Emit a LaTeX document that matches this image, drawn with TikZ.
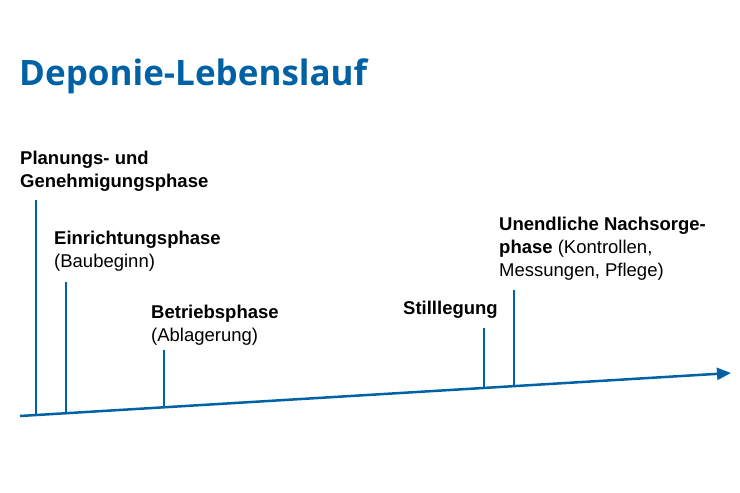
\documentclass[tikz,border=0pt]{standalone}
\usepackage{fontspec}
\setmainfont{Liberation Sans}
\newfontfamily\titlefont{Open Sans}
\usetikzlibrary{arrows.meta}
\definecolor{dblue}{RGB}{0,98,164}
\begin{document}
\begin{tikzpicture}[x=1pt,y=-1pt,
  lbl/.style={anchor=base west,inner sep=0pt,font=\fontsize{18.5}{23}\selectfont},
  tick/.style={draw=dblue,line width=1.2pt},
  axis/.style={draw=dblue,line width=2.5pt,-{Stealth[length=14pt,width=12pt,inset=0pt]}}]
\useasboundingbox (0,0) rectangle (740,493);
\node[anchor=base west,inner sep=0pt,text=dblue,font=\titlefont\bfseries\fontsize{35}{40}\selectfont] (title) at (19,85) {Deponie-Lebenslauf};
\coordinate (a0) at (20,416);
\coordinate (a1) at (731,373);
\draw[axis] (a0) -- (a1);
\foreach \n/\x/\yt/\yb in {t1/36/200/415, t2/66/282/413.2, t3/164/350/407.3, t4/484/328/387.9, t5/514/290/386.1}{
  \coordinate (\n top) at (\x,\yt);
  \coordinate (\n bot) at (\x,\yb);
  \draw[tick] (\n top) -- (\n bot);
}
\node[lbl] (l1a) at (20,164) {\textbf{Planungs- und}};
\node[lbl] (l1b) at (20,187) {\textbf{Genehmigungsphase}};
\node[lbl] (l2a) at (54,244) {\textbf{Einrichtungsphase}};
\node[lbl] (l2b) at (54,267) {(Baubeginn)};
\node[lbl] (l3a) at (151,318) {\textbf{Betriebsphase}};
\node[lbl] (l3b) at (151,341) {(Ablagerung)};
\node[lbl] (l4) at (403,314) {\textbf{Stilllegung}};
\node[lbl] (l5a) at (499,230) {\textbf{Unendliche Nachsorge-}};
\node[lbl] (l5b) at (499,253) {\textbf{phase} (Kontrollen,};
\node[lbl] (l5c) at (499,276) {Messungen, Pflege)};
\end{tikzpicture}
\end{document}
